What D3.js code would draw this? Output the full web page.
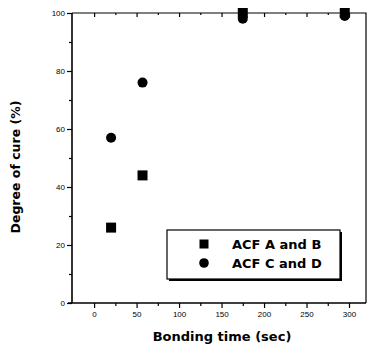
<!DOCTYPE html>
<html>
<head>
<meta charset="utf-8">
<script src="https://cdn.jsdelivr.net/npm/d3@7"></script>
<style>
  html, body { margin: 0; padding: 0; background: #fff; }
  svg { display: block; }
  .tick text { font-family: "Liberation Sans", Arial, sans-serif; font-size: 8px; fill: #000; }
  .title { font-family: "DejaVu Sans", sans-serif; font-weight: bold; }
</style>
</head>
<body>
<div id="chart"></div>
<script>
// Degree of cure vs. bonding time for two ACF groups
const bondingTime = [20, 57, 175, 295];
const cureAB = [26, 44, 100, 100];
const cureCD = [57, 76, 98, 99];
const seriesNames = ["ACF A and B", "ACF C and D"];
const xTicks = [0, 50, 100, 150, 200, 250, 300];
const yTicks = [0, 20, 40, 60, 80, 100];

const W = 369, H = 349;
const m = { left: 72, right: 3, top: 13, bottom: 46 };

const svg = d3.select("#chart").append("svg")
  .attr("width", W).attr("height", H);

const x = d3.scaleLinear().domain([-26, 320]).range([m.left, W - m.right]);
const y = d3.scaleLinear().domain([0, 100]).range([H - m.bottom, m.top]);

const g = svg.append("g");

// frame (top & right edges)
g.append("path")
  .attr("d", `M${m.left},${m.top}H${W - m.right}V${H - m.bottom}`)
  .attr("fill", "none").attr("stroke", "#000").attr("stroke-width", 1.2);

// bottom axis: major + minor ticks outward
const xAxis = g.append("g").attr("transform", `translate(0,${H - m.bottom})`)
  .call(d3.axisBottom(x).tickValues(xTicks).tickSize(5).tickPadding(3));
g.append("g").attr("transform", `translate(0,${H - m.bottom})`)
  .call(d3.axisBottom(x).tickValues(d3.range(25, 325, 50)).tickSize(3).tickFormat(""))
  .select(".domain").remove();
xAxis.select(".domain").attr("d", `M${m.left - 4},0H${W - m.right}`).attr("stroke-width", 1.6);

// top axis ticks, pointing into the plot
g.append("g").attr("transform", `translate(0,${m.top})`)
  .call(d3.axisBottom(x).tickValues(xTicks).tickSize(4).tickFormat(""))
  .select(".domain").remove();
g.append("g").attr("transform", `translate(0,${m.top})`)
  .call(d3.axisBottom(x).tickValues(d3.range(25, 325, 50)).tickSize(2).tickFormat(""))
  .select(".domain").remove();

// left axis
const yAxis = g.append("g").attr("transform", `translate(${m.left},0)`)
  .call(d3.axisLeft(y).tickValues(yTicks).tickSize(5).tickPadding(2));
g.append("g").attr("transform", `translate(${m.left},0)`)
  .call(d3.axisLeft(y).tickValues(d3.range(10, 100, 20)).tickSize(3).tickFormat(""))
  .select(".domain").remove();
yAxis.select(".domain").attr("d", `M0,${H - m.bottom}V${m.top}`).attr("stroke-width", 1.6);

g.selectAll(".tick line").attr("stroke", "#000").attr("stroke-width", 1.2);

// axis titles
svg.append("text").attr("class", "title")
  .attr("x", 222).attr("y", 341)
  .attr("text-anchor", "middle")
  .style("font-size", "13px")
  .text("Bonding time (sec)");

svg.append("text").attr("class", "title")
  .attr("transform", "translate(20,167) rotate(-90)")
  .attr("text-anchor", "middle")
  .style("font-size", "12.5px")
  .text("Degree of cure (%)");

// data markers
const sq = 10, r = 5;
g.selectAll("rect.ab").data(bondingTime.map((t, i) => [t, cureAB[i]]))
  .join("rect").attr("class", "ab")
  .attr("x", d => x(d[0]) - sq / 2).attr("y", d => y(d[1]) - sq / 2)
  .attr("width", sq).attr("height", sq).attr("fill", "#000");

g.selectAll("circle.cd").data(bondingTime.map((t, i) => [t, cureCD[i]]))
  .join("circle").attr("class", "cd")
  .attr("cx", d => x(d[0])).attr("cy", d => y(d[1])).attr("r", r).attr("fill", "#000");

// legend with drop shadow
const lg = svg.append("g").attr("transform", "translate(167,230)");
lg.append("rect").attr("x", 2).attr("y", 2).attr("width", 173).attr("height", 49).attr("fill", "#000");
lg.append("rect").attr("width", 173).attr("height", 49).attr("fill", "#fff")
  .attr("stroke", "#000").attr("stroke-width", 1.2);
lg.append("rect").attr("x", 37 - 4.5).attr("y", 14 - 4.5).attr("width", 9).attr("height", 9).attr("fill", "#000");
lg.append("circle").attr("cx", 37).attr("cy", 33).attr("r", 4.8).attr("fill", "#000");
lg.selectAll("text").data(seriesNames).join("text").attr("class", "title")
  .attr("x", 65).attr("y", (d, i) => 18.5 + i * 19)
  .style("font-size", "13px")
  .text(d => d);
</script>
</body>
</html>
